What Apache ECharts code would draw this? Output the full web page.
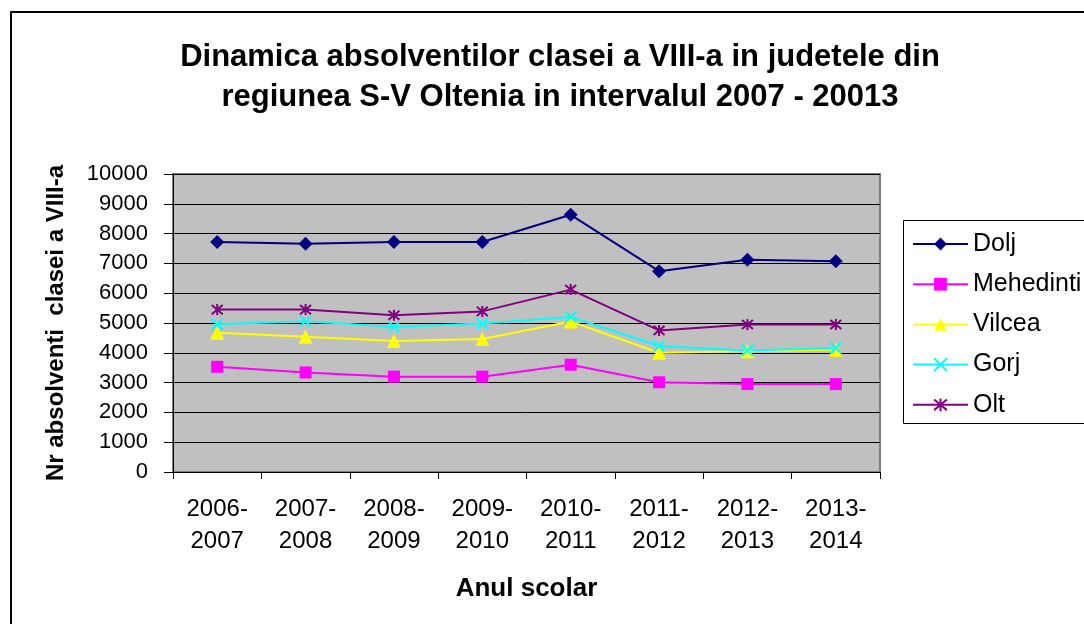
<!DOCTYPE html>
<html>
<head>
<meta charset="utf-8">
<script src="https://cdn.jsdelivr.net/npm/echarts@6/dist/echarts.min.js"></script>
<style>
  html, body { margin: 0; padding: 0; background: #fff; }
  #chart { width: 1084px; height: 624px; }
</style>
</head>
<body>
<div id="chart"></div>
<script>
// school years on the x axis
const years = ['2006-\n2007', '2007-\n2008', '2008-\n2009', '2009-\n2010',
  '2010-\n2011', '2011-\n2012', '2012-\n2013', '2013-\n2014'];

// graduates per county
const dolj      = [7720, 7660, 7720, 7720, 8630, 6740, 7120, 7070];
const mehedinti = [3530, 3340, 3200, 3200, 3600, 3010, 2950, 2950];
const vilcea    = [4670, 4540, 4400, 4460, 5050, 4000, 4050, 4100];
const gorj      = [4960, 5060, 4870, 4980, 5200, 4230, 4080, 4160];
const olt       = [5450, 5450, 5260, 5390, 6120, 4750, 4950, 4950];

const yTicks = [0, 1000, 2000, 3000, 4000, 5000, 6000, 7000, 8000, 9000, 10000];

const FONT = '"Liberation Sans", Arial, sans-serif';

// excel-like markers
const xMark = 'path://M0,0L10,10M10,0L0,10';
const starMark = 'path://M0,0L10,10M10,0L0,10M5,-1L5,11';

function mkSeries(name, data, color, symbol, size, stroke) {
  return {
    name, type: 'line', data,
    symbol, symbolSize: size, showAllSymbol: true,
    lineStyle: { color, width: 2 },
    itemStyle: stroke ? { color, borderColor: color, borderWidth: 2 } : { color },
    emphasis: { disabled: true },
    animation: false
  };
}

const chart = echarts.init(document.getElementById('chart'));
chart.setOption({
  backgroundColor: '#fff',
  animation: false,
  title: {
    text: 'Dinamica absolventilor clasei a VIII-a in judetele din\nregiunea S-V Oltenia in intervalul 2007 - 20013',
    left: 555, top: 32, textAlign: 'center',
    textStyle: { fontFamily: FONT, fontSize: 31, fontWeight: 'bold', color: '#000', lineHeight: 40 }
  },
  graphic: [
    { type: 'rect', shape: { x: 11, y: 12, width: 1100, height: 640 },
      style: { fill: 'none', stroke: '#000', lineWidth: 2 }, z: -1 },
    { type: 'rect', shape: { x: 903.5, y: 220.5, width: 200, height: 203 },
      style: { fill: '#fff', stroke: '#000', lineWidth: 1 }, z: 0 }
  ],
  legend: {
    orient: 'vertical', left: 912, top: 231, padding: 0,
    itemWidth: 55, itemHeight: 16, itemGap: 14.2,
    textStyle: { fontFamily: FONT, fontSize: 25, color: '#000', lineHeight: 26 },
    data: ['Dolj', 'Mehedinti', 'Vilcea', 'Gorj', 'Olt'],
    z: 5
  },
  grid: {
    left: 173, top: 174, right: 204, bottom: 152,
    show: true, backgroundColor: '#c0c0c0', borderColor: '#808080', borderWidth: 2
  },
  xAxis: {
    type: 'category', data: years, boundaryGap: true,
    name: 'Anul scolar', nameLocation: 'middle', nameGap: 104,
    nameTextStyle: { fontFamily: FONT, fontSize: 26, fontWeight: 'bold', color: '#000' },
    axisLine: { lineStyle: { color: '#000', width: 1 } },
    axisTick: { show: true, length: 7, alignWithLabel: false, lineStyle: { color: '#000' } },
    axisLabel: { fontFamily: FONT, fontSize: 24, color: '#000', lineHeight: 32, margin: 21, interval: 0 }
  },
  yAxis: {
    type: 'value', min: yTicks[0], max: yTicks[yTicks.length - 1], interval: 1000,
    name: 'Nr absolventi  clasei a VIII-a', nameLocation: 'middle', nameGap: 105,
    nameRotate: 90,
    nameTextStyle: { fontFamily: FONT, fontSize: 24, fontWeight: 'bold', color: '#000' },
    axisLine: { show: true, lineStyle: { color: '#000', width: 1 } },
    axisTick: { show: true, length: 9, lineStyle: { color: '#000' } },
    axisLabel: { fontFamily: FONT, fontSize: 22, color: '#000', margin: 25,
      formatter: (v) => String(v) },
    splitLine: { show: true, lineStyle: { color: '#000', width: 1 } }
  },
  series: [
    mkSeries('Dolj', dolj, '#000080', 'diamond', 14),
    mkSeries('Mehedinti', mehedinti, '#ff00ff', 'rect', 12),
    mkSeries('Vilcea', vilcea, '#ffff00', 'triangle', 14),
    mkSeries('Gorj', gorj, '#00ffff', xMark, 11, true),
    mkSeries('Olt', olt, '#800080', starMark, 11, true)
  ]
});
</script>
</body>
</html>
